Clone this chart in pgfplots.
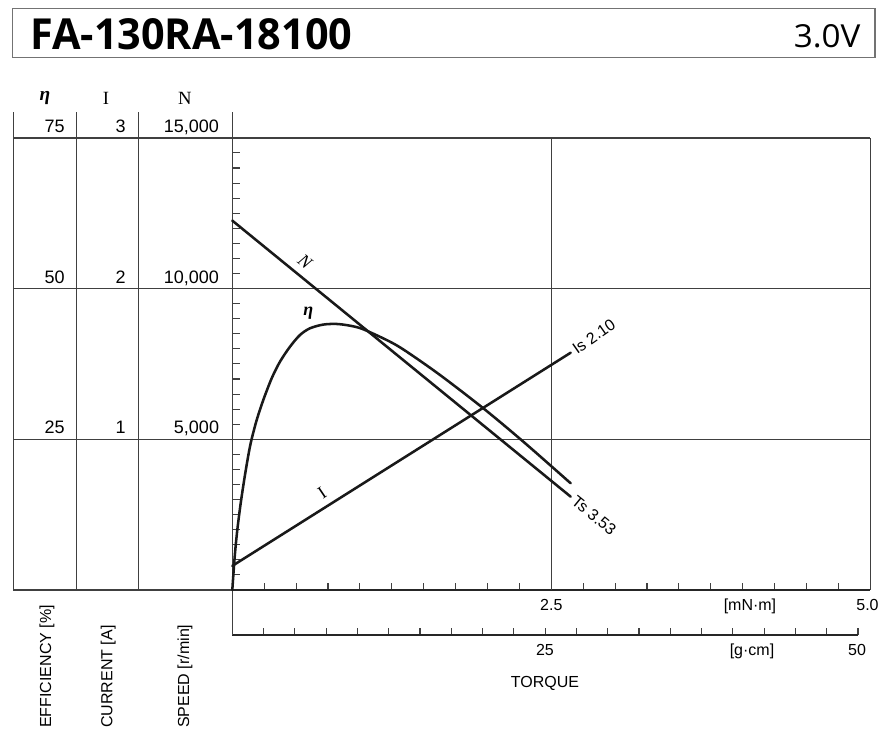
\documentclass[border=0pt]{standalone}
\usepackage{fontspec}
\setmainfont{Liberation Sans}
\newfontfamily\seriffont{Liberation Serif}
\newfontfamily\titlefont{Open Sans}
\usepackage{graphicx}
\usepackage{pgfplots}
\pgfplotsset{compat=1.18}
\begin{document}
\begin{tikzpicture}[x=0.75pt,y=0.75pt]
\useasboundingbox (0,0) rectangle (883,735);
% header box
\draw[line width=1.1pt, black!55] (12.7,726.7) rectangle (875,677.7);
\node[anchor=base west, inner sep=0pt] at (30,685.7) {\resizebox{241.5pt}{23.25pt}{\titlefont\bfseries FA-130RA-18100}};
\node[anchor=base east, inner sep=0pt] at (860.7,687.7) {\resizebox{50pt}{17.25pt}{\titlefont 3.0V}};

\tikzset{gridl/.style={line width=1.1pt, black!75},
         curve/.style={line width=1.9pt, black!90, line join=round, line cap=round},
         lab/.style={font=\fontsize{13.5pt}{14pt}\selectfont, inner sep=0pt},
         blab/.style={font=\fontsize{12pt}{13pt}\selectfont, inner sep=0pt}}

% g-cm scale
\begin{axis}[at={(174.225pt,75pt)}, anchor=south west, scale only axis,
  width=469.275pt, height=20pt, xmin=0, xmax=50, ymin=0, ymax=1,
  axis x line*=bottom, axis y line=none,
  axis line style={line width=1pt, black!85},
  xtick={0,2.5,...,50}, xticklabels={}, ytick=\empty,
  tick align=inside, major tick length=5pt,
  tick style={line width=0.8pt, black!75}]
\end{axis}

\begin{axis}[at={(174.225pt,108.75pt)}, anchor=south west, scale only axis,
  width=478.5pt, height=339.075pt,
  xmin=0, xmax=5, ymin=0, ymax=15, clip=false,
  axis x line*=bottom, axis y line*=left,
  axis line style={line width=1pt, black!85},
  xtick={0,0.25,...,5}, ytick={0,0.5,...,15},
  xticklabels={}, yticklabels={},
  tick align=inside, major tick length=5.5pt,
  tick style={line width=0.8pt, black!75}]

% frame and grid
\draw[gridl] (axis cs:-1.716,15) -- (axis cs:5,15);
\draw[gridl] (axis cs:-1.716,10) -- (axis cs:5,10);
\draw[gridl] (axis cs:-1.716,5) -- (axis cs:5,5);
\draw[gridl] (axis cs:-1.716,0) -- (axis cs:0,0);
\draw[gridl] (axis cs:5,0) -- (axis cs:5,15);
\draw[gridl] (axis cs:2.5,0) -- (axis cs:2.5,15);
\draw[gridl] (axis cs:-1.716,0) -- (axis cs:-1.716,15.86);
\draw[gridl] (axis cs:-1.219,0) -- (axis cs:-1.219,15.86);
\draw[gridl] (axis cs:-0.737,0) -- (axis cs:-0.737,15.86);
\draw[gridl] (axis cs:0,-1.493) -- (axis cs:0,15.86);

% column headers
\node[inner sep=0pt, font=\fontsize{14.5pt}{15pt}\selectfont\seriffont\itshape\bfseries] at (axis cs:-1.468,16.32) {η};
\node[inner sep=0pt, font=\fontsize{14pt}{15pt}\selectfont\seriffont] at (axis cs:-0.989,16.32) {I};
\node[inner sep=0pt, font=\fontsize{14pt}{15pt}\selectfont\seriffont] at (axis cs:-0.371,16.32) {N};

% column tick labels
\node[lab, anchor=base east] at (axis cs:-1.311,15.18) {75};
\node[lab, anchor=base east] at (axis cs:-0.833,15.18) {3};
\node[lab, anchor=base east] at (axis cs:-0.102,15.18) {15,000};
\node[lab, anchor=base east] at (axis cs:-1.311,10.18) {50};
\node[lab, anchor=base east] at (axis cs:-0.833,10.18) {2};
\node[lab, anchor=base east] at (axis cs:-0.102,10.18) {10,000};
\node[lab, anchor=base east] at (axis cs:-1.311,5.18) {25};
\node[lab, anchor=base east] at (axis cs:-0.833,5.18) {1};
\node[lab, anchor=base east] at (axis cs:-0.102,5.18) {5,000};

% column titles (rotated)
\node[blab, rotate=90, anchor=west] at (axis cs:-1.452,-4.579) {EFFICIENCY [\%]};
\node[blab, rotate=90, anchor=west] at (axis cs:-0.973,-4.579) {CURRENT [A]};
\node[blab, rotate=90, anchor=west] at (axis cs:-0.371,-4.579) {SPEED [r/min]};

% torque labels
\node[blab, anchor=base] at (axis cs:2.5,-0.686) {2.5};
\node[blab, anchor=base] at (axis cs:4.057,-0.686) {[mN·m]};
\node[blab, anchor=base] at (axis cs:4.978,-0.686) {5.0};
\node[blab, anchor=base] at (axis cs:2.45,-2.157) {25};
\node[blab, anchor=base] at (axis cs:4.073,-2.157) {[g·cm]};
\node[blab, anchor=base] at (axis cs:4.896,-2.157) {50};
\node[blab, anchor=base] at (axis cs:2.45,-3.228) {TORQUE};

% speed N (thousand r/min)
\addplot[curve] coordinates {(0,12.256) (2.652,3.096)};
% current I (scaled: 1 A = 5 units)
\addplot[curve] coordinates {(0,0.80) (2.652,7.873)};
% efficiency eta (scaled: 25 % = 5 units)
\addplot[curve, smooth, tension=0.5] coordinates {
 (0,0) (0.0188,1.105) (0.0392,1.991) (0.0658,2.877) (0.0972,3.759)
 (0.1285,4.535) (0.150,4.977) (0.1912,5.640) (0.2429,6.304) (0.3088,7.024)
 (0.3738,7.575) (0.4522,8.072) (0.5306,8.461) (0.6089,8.683) (0.7132,8.806)
 (0.8182,8.826) (0.9224,8.769) (1.0266,8.650) (1.236,8.238) (1.367,7.906)
 (1.628,7.133) (1.967,6.029) (2.281,4.920) (2.652,3.54)};

% curve labels
\node[inner sep=0pt, font=\fontsize{13.5pt}{14pt}\selectfont\seriffont\itshape, rotate=-39] at (axis cs:0.570,10.89) {N};
\node[inner sep=0pt, font=\fontsize{13.5pt}{14pt}\selectfont\seriffont\itshape\bfseries] at (axis cs:0.595,9.18) {η};
\node[inner sep=0pt, font=\fontsize{13.5pt}{14pt}\selectfont\seriffont, rotate=34] at (axis cs:0.703,3.21) {I};
\node[blab, anchor=west, rotate=35, inner sep=3pt] at (axis cs:2.652,7.873) {Is 2.10};
\node[blab, anchor=west, rotate=-39, inner sep=3pt] at (axis cs:2.652,3.096) {Ts 3.53};
\end{axis}
\end{tikzpicture}
\end{document}
